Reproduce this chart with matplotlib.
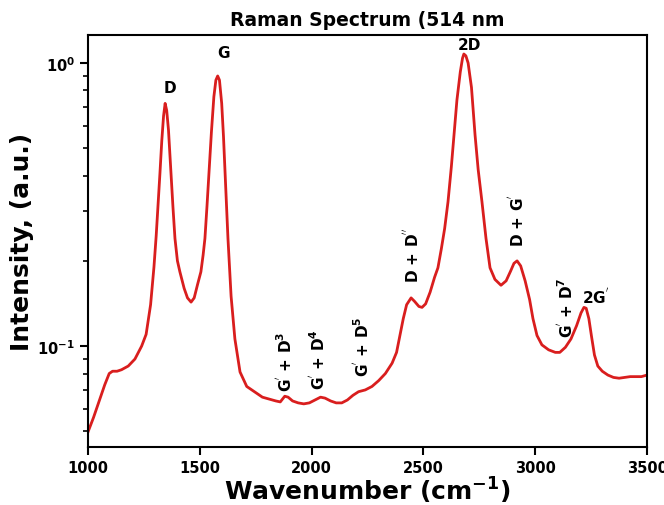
import matplotlib
matplotlib.use("Agg")
import matplotlib.pyplot as plt

wavenumber = [1000, 1025, 1050, 1075, 1095, 1110, 1130, 1150, 1180, 1210, 1240, 1260, 1280, 1295,
              1305, 1315, 1322, 1330, 1338, 1345, 1352, 1360, 1371, 1380, 1389, 1400, 1411, 1430,
              1445, 1461, 1475, 1490, 1505, 1515, 1523, 1532, 1541, 1552, 1563, 1572, 1580, 1588,
              1598, 1606, 1613, 1620, 1626, 1640, 1657, 1680, 1710, 1747, 1780, 1810, 1840, 1860,
              1880, 1895, 1915, 1940, 1965, 1990, 2015, 2040, 2060, 2085, 2110, 2135, 2160, 2185,
              2210, 2240, 2270, 2300, 2330, 2360, 2380, 2395, 2410, 2425, 2445, 2460, 2480, 2494,
              2510, 2530, 2550, 2565, 2580, 2595, 2610, 2625, 2637, 2650, 2665, 2675, 2681, 2690,
              2700, 2715, 2731, 2745, 2762, 2780, 2798, 2820, 2847, 2870, 2890, 2905, 2919, 2935,
              2955, 2975, 2990, 3008, 3030, 3060, 3090, 3110, 3135, 3160, 3185, 3205, 3218, 3228,
              3240, 3252, 3265, 3280, 3300, 3325, 3350, 3375, 3400, 3425, 3450, 3475, 3500]
intensity = [0.0497, 0.056, 0.064, 0.073, 0.080, 0.0815, 0.0815, 0.0825, 0.085, 0.090, 0.100, 0.110, 0.140, 0.19,
             0.245, 0.33, 0.41, 0.53, 0.65, 0.72, 0.68, 0.58, 0.41, 0.31, 0.24, 0.20, 0.183, 0.160,
             0.148, 0.143, 0.148, 0.165, 0.183, 0.21, 0.24, 0.31, 0.41, 0.57, 0.76, 0.87, 0.90, 0.87,
             0.72, 0.55, 0.41, 0.30, 0.24, 0.15, 0.106, 0.081, 0.072, 0.0688, 0.066, 0.065, 0.064, 0.0635,
             0.0665, 0.066, 0.064, 0.063, 0.0625, 0.063, 0.0645, 0.066, 0.0655, 0.064, 0.063, 0.063, 0.0645, 0.067,
             0.069, 0.070, 0.072, 0.0755, 0.080, 0.087, 0.095, 0.109, 0.125, 0.140, 0.148, 0.144, 0.138, 0.137,
             0.141, 0.155, 0.175, 0.189, 0.22, 0.26, 0.323, 0.43, 0.557, 0.74, 0.93, 1.04, 1.076, 1.06,
             1.00, 0.82, 0.557, 0.42, 0.323, 0.24, 0.189, 0.172, 0.164, 0.170, 0.184, 0.196, 0.200, 0.192,
             0.170, 0.146, 0.125, 0.109, 0.101, 0.097, 0.095, 0.095, 0.099, 0.106, 0.118, 0.131, 0.137, 0.136,
             0.125, 0.108, 0.093, 0.085, 0.0815, 0.079, 0.0775, 0.077, 0.0775, 0.078, 0.078, 0.078, 0.079]

labels_upright = [("D", 1367, 0.82), ("G", 1604, 1.09), ("2D", 2708, 1.16), (r"2G$^{'}$", 3272, 0.15)]
labels_rotated = [(r"G$^{'}$ + D$^{3}$", 1881, 0.089), (r"G$^{'}$ + D$^{4}$", 2029, 0.090),
                  (r"G$^{'}$ + D$^{5}$", 2225, 0.100), (r"D + D$^{''}$", 2449, 0.21),
                  (r"D + G$^{'}$", 2919, 0.28), (r"G$^{'}$ + D$^{7}$", 3138, 0.138)]

plt.rcParams['mathtext.default'] = 'bf'
fig = plt.figure(figsize=(6.64, 5.06), dpi=100)
ax = fig.add_axes([0.1325, 0.1146, 0.8419, 0.8143])
ax.plot(wavenumber, intensity, color='#d91e1e', lw=2)
ax.set_yscale('log')
ax.set_xlim(1000, 3500)
ax.set_ylim(0.0440, 1.256)
ax.set_xticks([1000, 1500, 2000, 2500, 3000, 3500])
ax.set_title("Raman Spectrum (514 nm", fontsize=13.5, fontweight='bold', pad=7)
ax.set_xlabel(r"Wavenumber (cm$^{\mathbf{-1}}$)", fontsize=18, fontweight='bold', labelpad=0)
ax.set_ylabel("Intensity, (a.u.)", fontsize=18, fontweight='bold', labelpad=2)
for lbl in ax.get_xticklabels() + ax.get_yticklabels():
    lbl.set_fontweight('bold')
ax.tick_params(axis='both', which='major', labelsize=10.5, width=1.5, length=6)
ax.tick_params(axis='y', which='minor', width=1.2, length=3.5)
for s in ax.spines.values():
    s.set_linewidth(1.5)

for t, x, y in labels_upright:
    ax.text(x, y, t, ha='center', va='center', fontsize=11, fontweight='bold')
for t, x, y in labels_rotated:
    ax.text(x, y, t, ha='center', va='center', fontsize=11, fontweight='bold', rotation=90)

fig.savefig("out.png", dpi=100)
